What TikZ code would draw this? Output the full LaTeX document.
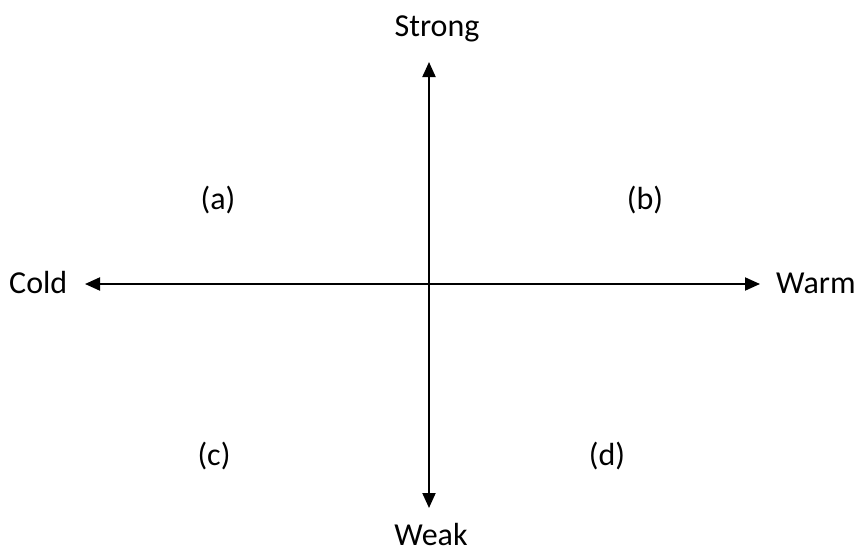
\documentclass[tikz,border=0pt]{standalone}
\usepackage{fontspec}
\setmainfont{Carlito}
\usetikzlibrary{arrows.meta}
\begin{document}
\begin{tikzpicture}[x=1pt,y=-1pt,
  lbl/.style={inner sep=0pt,font=\fontsize{32}{38}\selectfont},
  axis/.style={line width=2pt,{Triangle[length=15pt,width=13pt]}-{Triangle[length=15pt,width=13pt]}}]
\useasboundingbox (0,0) rectangle (859,551);
\coordinate (top) at (429,62);
\coordinate (bot) at (429,508);
\coordinate (left) at (85,284);
\coordinate (right) at (760,284);
\draw[axis] (bot) -- (top);
\draw[axis] (left) -- (right);
\node[lbl,anchor=base] (strong) at (437,37) {Strong};
\node[lbl,anchor=base] (weak) at (431,545) {Weak};
\node[lbl,anchor=base west] (cold) at (9,293) {Cold};
\node[lbl,anchor=base west] (warm) at (776,293) {Warm};
\node[lbl,anchor=base] (a) at (218,209) {(a)};
\node[lbl,anchor=base] (b) at (645,209) {(b)};
\node[lbl,anchor=base] (c) at (214,465) {(c)};
\node[lbl,anchor=base] (d) at (607,465) {(d)};
\end{tikzpicture}
\end{document}
